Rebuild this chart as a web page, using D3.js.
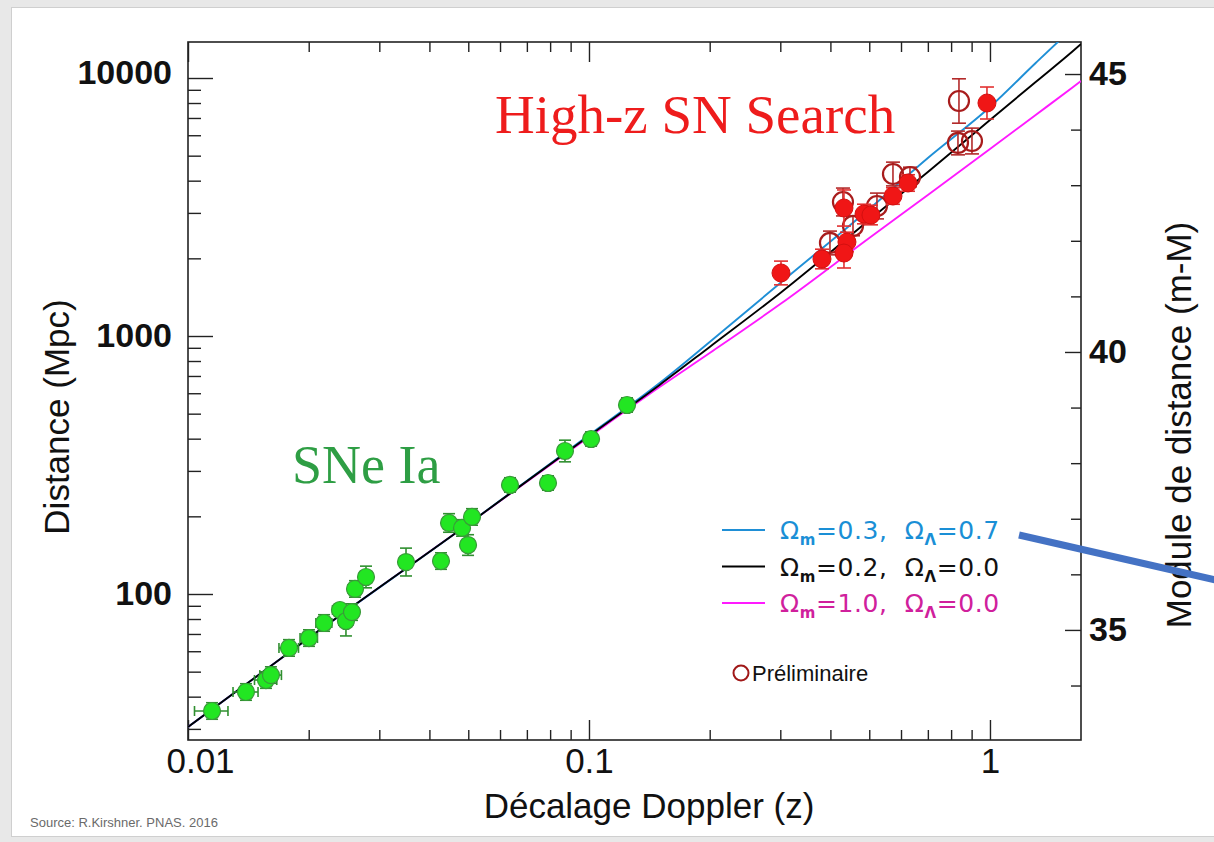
<!DOCTYPE html>
<html><head><meta charset="utf-8">
<script src="https://cdn.jsdelivr.net/npm/d3@7"></script>
<style>body{margin:0;background:#e8e8e8;} svg{display:block}</style>
</head><body><svg id="c" width="1214" height="842"></svg>
<script>
// ---- tick values / labels ----
const zMajor = [0.01, 0.1, 1];
const zMajorLabels = ["0.01", "0.1", "1"];
const zMinor = [0.02,0.03,0.04,0.05,0.06,0.07,0.08,0.09,0.2,0.3,0.4,0.5,0.6,0.7,0.8,0.9];
const dMajor = [100, 1000, 10000];
const dMajorLabels = ["100", "1000", "10000"];
const dMinor = [30,40,50,60,70,80,90,200,300,400,500,600,700,800,900,2000,3000,4000,5000,6000,7000,8000,9000];
const muMajor = [35, 40, 45];
const muMajorLabels = ["35", "40", "45"];
const muMinor = [34,36,37,38,39,41,42,43,44];

// ---- model curves ----
const modelZ     = [0.01, 0.02, 0.05, 0.1, 0.15, 0.2, 0.3, 0.5, 0.7, 1.0, 1.3, 1.6, 1.687];
const modelBlue  = [30.5, 67.5, 186.8, 413, 657, 948, 1605, 3106, 4896, 7720, 11430, 15490, 16700];
const modelBlack = [30.5, 67.5, 186.8, 410, 646, 907, 1468, 2816, 4323, 6876, 9650, 12615, 13546];
const modelMag   = [30.5, 67.5, 186.8, 406, 634, 859, 1330, 2398, 3520, 5305, 7190, 9148, 9737];

// ---- low-z SNe Ia (green) ----
const greenZ = [0.01148,0.01395,0.01565,0.0161,0.01786,0.02003,0.02184,0.02393,0.02477,0.02564,0.02609,0.02779,0.03497,0.04275,0.04477,0.04824,0.05108,0.04993,0.06353,0.07903,0.08712,0.1012,0.1244];
const greenD = [35.2,41.7,46.4,48.5,61.8,67.5,77.2,86.7,78.6,85.1,104.6,116.4,133,134.2,188.5,180.3,198.9,154.8,264.6,269.3,358.3,398.8,540.2];
const greenErrMag = [0.16,0.16,0.16,0.16,0.16,0.16,0.16,0.12,0.29,0.16,0.16,0.21,0.27,0.16,0.18,0.16,0.16,0.2,0.14,0.14,0.21,0.14,0.14];
const greenErrZ = [0.0011,0.001,0.001,0.001,0.001,0.001,0.001,0.001,0.001,0.001,0.001,0.001,0.001,0.001,0.001,0.001,0.001,0.001,0.001,0.001,0.001,0.001,0.001];

// ---- High-z SN Search (red filled) ----
const redZ = [0.3012,0.3811,0.4324,0.4399,0.4324,0.4851,0.5049,0.5729,0.6246,0.9829];
const redD = [1755,1988,3134,2314,2097,2970,2944,3488,3918,8000];
const redErrMag = [0.23,0.19,0.35,0.19,0.29,0.19,0.19,0.16,0.16,0.31];

// ---- preliminary (open circles) ----
const openZ = [0.4299,0.399,0.4554,0.5226,0.5729,0.6317,0.8369,0.8321,0.9018];
const openD = [3307,2294,2670,3191,4245,4133,8145,5600,5699];
const openErrMag = [0.27,0.23,0.19,0.25,0.23,0.19,0.43,0.23,0.25];

const legendLabels = [
  {m:"0.3", l:"0.7", line:"#1f8fd6", text:"#1a8fd6"},
  {m:"0.2", l:"0.0", line:"#000000", text:"#111111"},
  {m:"1.0", l:"0.0", line:"#ff1aff", text:"#d0209c"}
];

const svg = d3.select("#c");
const L=188, R=1081, T=42, B=740;

// page panel
svg.append("rect").attr("x",0).attr("y",0).attr("width",1214).attr("height",842).attr("fill","#e8e8e8");
svg.append("rect").attr("x",11).attr("y",7).attr("width",1210).attr("height",830).attr("fill","#cfcfcf");
svg.append("rect").attr("x",12).attr("y",8).attr("width",1210).attr("height",828).attr("fill","#ffffff");

const x = d3.scaleLog().domain([0.01, 1.6866]).range([L, R]);
const y = d3.scaleLog().domain([27.17, 13790]).range([B, T]);
const yMu = d3.scaleLinear().domain([33.02, 45.576]).range([B, T]);

const font = "'Liberation Sans', Arial, sans-serif";

// clip
svg.append("defs").append("clipPath").attr("id","plotclip")
  .append("rect").attr("x",L).attr("y",T).attr("width",R-L).attr("height",B-T);

// axes
function styleAxis(g){ g.select(".domain").remove(); g.selectAll("line").attr("stroke","#222").attr("stroke-width",1.4); }

const gx = svg.append("g").attr("transform",`translate(0,${B})`)
  .call(d3.axisBottom(x).tickValues(zMajor).tickFormat((d,i)=>zMajorLabels[i]).tickSize(-20).tickPadding(-20+28));
styleAxis(gx);
gx.selectAll("text").attr("font-family",font).attr("font-size",35).attr("fill","#111").attr("dy","0.71em")
  .attr("dx",(d,i)=> i===0 ? 12 : 0);
svg.append("g").attr("transform",`translate(0,${B})`)
  .call(d3.axisBottom(x).tickValues(zMinor).tickFormat("").tickSize(-10)).call(styleAxis);
svg.append("g").attr("transform",`translate(0,${T})`)
  .call(d3.axisTop(x).tickValues(zMajor).tickFormat("").tickSize(-20)).call(styleAxis);
svg.append("g").attr("transform",`translate(0,${T})`)
  .call(d3.axisTop(x).tickValues(zMinor).tickFormat("").tickSize(-10)).call(styleAxis);

const gy = svg.append("g").attr("transform",`translate(${L},0)`)
  .call(d3.axisLeft(y).tickValues(dMajor).tickFormat((d,i)=>dMajorLabels[i]).tickSize(-25).tickPadding(16));
styleAxis(gy);
gy.selectAll("text").attr("font-family",font).attr("font-size",34).attr("fill","#111").attr("font-weight","bold")
  .attr("dy",(d,i)=> i===2 ? "0.17em" : "0.32em");
svg.append("g").attr("transform",`translate(${L},0)`)
  .call(d3.axisLeft(y).tickValues(dMinor).tickFormat("").tickSize(-13)).call(styleAxis);

const gr = svg.append("g").attr("transform",`translate(${R},0)`)
  .call(d3.axisRight(yMu).tickValues(muMajor).tickFormat((d,i)=>muMajorLabels[i]).tickSize(-16).tickPadding(8));
styleAxis(gr);
gr.selectAll("text").attr("font-family",font).attr("font-size",34).attr("fill","#111").attr("font-weight","bold");
svg.append("g").attr("transform",`translate(${R},0)`)
  .call(d3.axisRight(yMu).tickValues(muMinor).tickFormat("").tickSize(-10)).call(styleAxis);

// frame
svg.append("rect").attr("x",L).attr("y",T).attr("width",R-L).attr("height",B-T)
  .attr("fill","none").attr("stroke","#222").attr("stroke-width",1.6);

// model lines
const line = d3.line().x(d=>x(d[0])).y(d=>y(d[1])).curve(d3.curveMonotoneX);
const plot = svg.append("g").attr("clip-path","url(#plotclip)");
[[modelMag,"#ff1aff"],[modelBlue,"#1f8fd6"],[modelBlack,"#000"]].forEach(([arr,col])=>{
  plot.append("path").datum(modelZ.map((z,i)=>[z,arr[i]])).attr("d",line)
    .attr("fill","none").attr("stroke",col).attr("stroke-width",1.9);
});

// error bars helper
function errBars(zs, ds, errs, col, cap, zerrs){
  const g = plot.append("g").attr("stroke",col).attr("stroke-width",1.6);
  zs.forEach((z,i)=>{
    const cx = x(z), y1 = y(ds[i]*Math.pow(10, errs[i]/5)), y2 = y(ds[i]*Math.pow(10,-errs[i]/5));
    g.append("line").attr("x1",cx).attr("x2",cx).attr("y1",y1).attr("y2",y2);
    g.append("line").attr("x1",cx-cap).attr("x2",cx+cap).attr("y1",y1).attr("y2",y1);
    g.append("line").attr("x1",cx-cap).attr("x2",cx+cap).attr("y1",y2).attr("y2",y2);
    if (zerrs){
      const cy = y(ds[i]), xa = x(z - zerrs[i]), xb = x(z + zerrs[i]);
      g.append("line").attr("x1",xa).attr("x2",xb).attr("y1",cy).attr("y2",cy);
      g.append("line").attr("x1",xa).attr("x2",xa).attr("y1",cy-5).attr("y2",cy+5);
      g.append("line").attr("x1",xb).attr("x2",xb).attr("y1",cy-5).attr("y2",cy+5);
    }
  });
}

errBars(greenZ, greenD, greenErrMag, "#2f8f2f", 6, greenErrZ);
plot.append("g").selectAll("circle").data(greenZ).join("circle")
  .attr("cx",d=>x(d)).attr("cy",(d,i)=>y(greenD[i])).attr("r",8.5)
  .attr("fill","#22e622").attr("stroke","#3a9a3a").attr("stroke-width",1.2);

errBars(openZ, openD, openErrMag, "#b32a2a", 7);
plot.append("g").selectAll("circle").data(openZ).join("circle")
  .attr("cx",d=>x(d)).attr("cy",(d,i)=>y(openD[i])).attr("r",10)
  .attr("fill","none").attr("stroke","#a81c1c").attr("stroke-width",2.2);

errBars(redZ, redD, redErrMag, "#e23030", 7);
plot.append("g").selectAll("circle").data(redZ).join("circle")
  .attr("cx",d=>x(d)).attr("cy",(d,i)=>y(redD[i])).attr("r",9)
  .attr("fill","#f01616").attr("stroke","#d41010").attr("stroke-width",1);

// annotations
svg.append("text").attr("x",495).attr("y",133).text("High-z SN Search")
  .attr("font-family","'Liberation Serif', 'Times New Roman', serif").attr("font-size",55).attr("fill","#ee1c1c");
svg.append("text").attr("x",292).attr("y",483).text("SNe Ia")
  .attr("font-family","'Liberation Serif', 'Times New Roman', serif").attr("font-size",54).attr("fill","#2e9e44");

// legend
const lg = svg.append("g");
legendLabels.forEach((e,i)=>{
  const ly = 530 + i*36.5;
  lg.append("line").attr("x1",722).attr("x2",765).attr("y1",ly).attr("y2",ly).attr("stroke",e.line).attr("stroke-width",1.8);
  const t = lg.append("text").attr("x",780).attr("y",ly+9).attr("fill",e.text)
    .style("white-space","pre").attr("letter-spacing",0.6)
    .attr("font-family","'DejaVu Sans', sans-serif").attr("font-size",25);
  t.append("tspan").text("Ω");
  t.append("tspan").text("m").attr("font-size",15).attr("font-weight","bold").attr("dy",6);
  t.append("tspan").text("=" + e.m + ",  Ω").attr("dy",-6);
  t.append("tspan").text("Λ").attr("font-size",15).attr("font-weight","bold").attr("dy",6);
  t.append("tspan").text("=" + e.l).attr("dy",-6);
});
lg.append("circle").attr("cx",741).attr("cy",673).attr("r",7.5).attr("fill","none").attr("stroke","#a01818").attr("stroke-width",2);
lg.append("text").attr("x",752).attr("y",681).text("Préliminaire")
  .attr("font-family",font).attr("font-size",22).attr("fill","#111");

// axis titles
svg.append("text").attr("x",649).attr("y",818).attr("text-anchor","middle").text("Décalage Doppler (z)")
  .attr("font-family",font).attr("font-size",35).attr("fill","#111");
svg.append("text").attr("transform","translate(69,417) rotate(-90)").attr("text-anchor","middle").text("Distance (Mpc)")
  .attr("font-family",font).attr("font-size",35).attr("fill","#111");
svg.append("text").attr("transform","translate(1191,425) rotate(-90)").attr("text-anchor","middle").text("Module de distance (m-M)")
  .attr("font-family",font).attr("font-size",35).attr("fill","#111");

svg.append("text").attr("x",30).attr("y",827).text("Source: R.Kirshner. PNAS. 2016")
  .attr("font-family",font).attr("font-size",13).attr("fill","#6a6a6a");

// overlay pointer line
svg.append("line").attr("x1",1019).attr("y1",535).attr("x2",1220).attr("y2",581)
  .attr("stroke","#4472c4").attr("stroke-width",7);
</script></body></html>
